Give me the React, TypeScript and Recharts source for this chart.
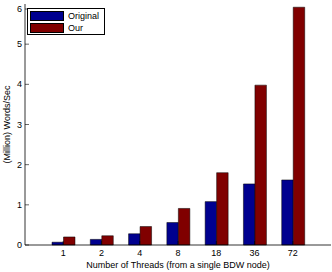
import { BarChart, Bar, XAxis, YAxis, Legend } from 'recharts';

const threads = ['1', '2', '4', '8', '18', '36', '72'];
const original = [0.07, 0.14, 0.28, 0.56, 1.08, 1.52, 1.62];
const ours = [0.2, 0.23, 0.46, 0.91, 1.8, 3.98, 5.92];
const yTicks = [0, 1, 2, 3, 4, 5, 6];

const data = threads.map((t, i) => ({ name: t, Original: original[i], Our: ours[i] }));

const font = '"Liberation Sans", Arial, sans-serif';

const BottomTick = (props: any) => {
    const { x, y, payload } = props;
    return (
        <g>
            <line x1={x} y1={y} x2={x} y2={y - 4} stroke="#000" strokeWidth={0.6} />
            <text x={x} y={y + 11} textAnchor="middle" fontSize={9} fontFamily={font} fill="#000">{payload.value}</text>
        </g>
    );
};

const TopTick = (props: any) => {
    const { x, y } = props;
    return <line x1={x} y1={y} x2={x} y2={y + 4} stroke="#000" strokeWidth={0.6} />;
};

const LeftTick = (props: any) => {
    const { x, y, payload } = props;
    return (
        <g>
            <line x1={x} y1={y} x2={x + 4} y2={y} stroke="#000" strokeWidth={0.6} />
            <text x={x - 3} y={y + 3} textAnchor="end" fontSize={9} fontFamily={font} fill="#000">{payload.value}</text>
        </g>
    );
};

const RightTick = (props: any) => {
    const { x, y } = props;
    return <line x1={x} y1={y} x2={x - 4} y2={y} stroke="#000" strokeWidth={0.6} />;
};

const LegendBox = (props: any) => {
    const { payload } = props;
    return (
        <div style={{ border: '1px solid #000', background: '#fff', width: 72, height: 24, padding: '1px 2px 0 2px', fontFamily: font, fontSize: 9, lineHeight: '10px', boxSizing: 'content-box' }}>
            {payload.map((p: any) => (
                <div key={p.value} style={{ display: 'flex', alignItems: 'center', height: 12 }}>
                    <span style={{ display: 'inline-block', width: 32, height: 8, background: p.color, border: '1px solid #000', marginRight: 4 }} />
                    <span>{p.value}</span>
                </div>
            ))}
        </div>
    );
};

export default function App() {
    return (
        <div style={{ position: 'absolute', left: 0, top: 0, width: 332, height: 272, background: '#fff' }}>
            <BarChart
                width={332}
                height={272}
                data={data}
                barGap={0}
                margin={{ top: 4, right: 1, left: 0, bottom: 0 }}
            >
                <XAxis
                    dataKey="name"
                    height={27}
                    padding={{ left: 19, right: 19 }}
                    tickSize={0}
                    tickMargin={0}
                    tickLine={false}
                    tick={<BottomTick />}
                    axisLine={{ stroke: '#000', strokeWidth: 0.8 }}
                    interval={0}
                    label={{ value: 'Number of Threads (from a single BDW node)', position: 'insideBottom', offset: 4, fontSize: 9, fontFamily: font, fill: '#000' }}
                />
                <XAxis
                    xAxisId="top"
                    dataKey="name"
                    orientation="top"
                    height={0}
                    padding={{ left: 19, right: 19 }}
                    tickSize={0}
                    tickMargin={0}
                    tickLine={false}
                    tick={<TopTick />}
                    axisLine={{ stroke: '#000', strokeWidth: 0.8 }}
                    interval={0}
                />
                <YAxis
                    width={25}
                    type="number"
                    domain={[0, 6]}
                    ticks={yTicks}
                    tickSize={0}
                    tickMargin={0}
                    tickLine={false}
                    tick={<LeftTick />}
                    axisLine={{ stroke: '#000', strokeWidth: 0.8 }}
                    label={{ value: '(Million) Words/Sec', angle: -90, position: 'insideLeft', offset: 7, style: { textAnchor: 'middle' }, fontSize: 9, fontFamily: font, fill: '#000' }}
                />
                <YAxis
                    yAxisId="right"
                    orientation="right"
                    width={0}
                    type="number"
                    domain={[0, 6]}
                    ticks={yTicks}
                    tickSize={0}
                    tickMargin={0}
                    tickLine={false}
                    tick={<RightTick />}
                    axisLine={{ stroke: '#000', strokeWidth: 0.8 }}
                />
                <Legend
                    layout="horizontal"
                    verticalAlign="middle"
                    align="center"
                    content={<LegendBox />}
                    wrapperStyle={{ left: 27, top: 8, width: 'auto' }}
                />
                <Bar dataKey="Original" fill="#00008f" stroke="#000" strokeWidth={0.5} barSize={11.5} isAnimationActive={false} />
                <Bar dataKey="Our" fill="#800000" stroke="#000" strokeWidth={0.5} barSize={11.5} isAnimationActive={false} />
            </BarChart>
        </div>
    );
}
